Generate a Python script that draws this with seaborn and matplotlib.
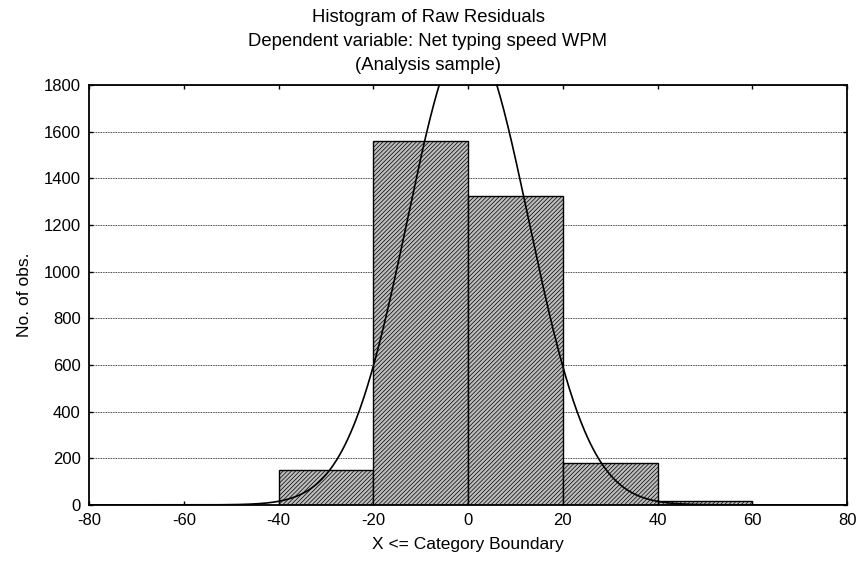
import numpy as np
import pandas as pd
import seaborn as sns
import matplotlib.pyplot as plt

# Histogram counts (bins of width 20)
bin_edges = [-80, -60, -40, -20, 0, 20, 40, 60, 80]
bin_counts = [0, 0, 150, 1560, 1325, 181, 15, 0]

# Fitted normal curve parameters
curve_mean = 0.0
curve_sd = 12.8

sns.set_theme(style="white")
plt.rcParams["font.family"] = ["Liberation Sans", "DejaVu Sans"]
plt.rcParams["axes.unicode_minus"] = False
plt.rcParams["text.color"] = "black"
plt.rcParams["axes.labelcolor"] = "black"
plt.rcParams["hatch.color"] = "#6e6e6e"
plt.rcParams["hatch.linewidth"] = 0.5

centers = [(a + b) / 2 for a, b in zip(bin_edges[:-1], bin_edges[1:])]
df = pd.DataFrame({"x": centers, "n": bin_counts})

fig = plt.figure(figsize=(8.56, 5.66), dpi=100)
ax = fig.add_axes([0.104, 0.108, 0.8855, 0.742])

sns.histplot(data=df, x="x", weights="n", bins=bin_edges, ax=ax,
             color="#bdbdbd", edgecolor="black", linewidth=1.0, alpha=1)
for p in ax.patches:
    p.set_hatch("////////")

# normal curve scaled to counts
n_obs = sum(bin_counts)
width = bin_edges[1] - bin_edges[0]
xs = np.linspace(-80, 80, 801)
ys = n_obs * width / (curve_sd * np.sqrt(2 * np.pi)) * np.exp(-0.5 * ((xs - curve_mean) / curve_sd) ** 2)
sns.lineplot(x=xs, y=ys, ax=ax, color="black", linewidth=1.2)

ax.set_xlim(-80, 80)
ax.set_ylim(0, 1800)
ax.set_xticks(range(-80, 81, 20))
ax.set_yticks(range(0, 1801, 200))
ax.yaxis.grid(True, linestyle=(0, (1, 1)), color="black", linewidth=0.6)
ax.set_axisbelow(True)
ax.tick_params(direction="in", length=3, width=1, labelsize=12, top=True, right=True,
               bottom=True, left=True, colors="black", pad=6)
for s in ax.spines.values():
    s.set_color("black")
    s.set_linewidth(1.3)

ax.set_xlabel("X <= Category Boundary", fontsize=12.5, labelpad=6)
ax.set_ylabel("No. of obs.", fontsize=12.5, labelpad=8)

fig.text(0.5, 1 - 18 / 566, "Histogram of Raw Residuals", ha="center", va="center", fontsize=13.3)
fig.text(0.5, 1 - 42 / 566, "Dependent variable: Net typing speed WPM", ha="center", va="center", fontsize=13.3)
fig.text(0.5, 1 - 65 / 566, "(Analysis sample)", ha="center", va="center", fontsize=13.3)

fig.savefig("out.png", dpi=100)
